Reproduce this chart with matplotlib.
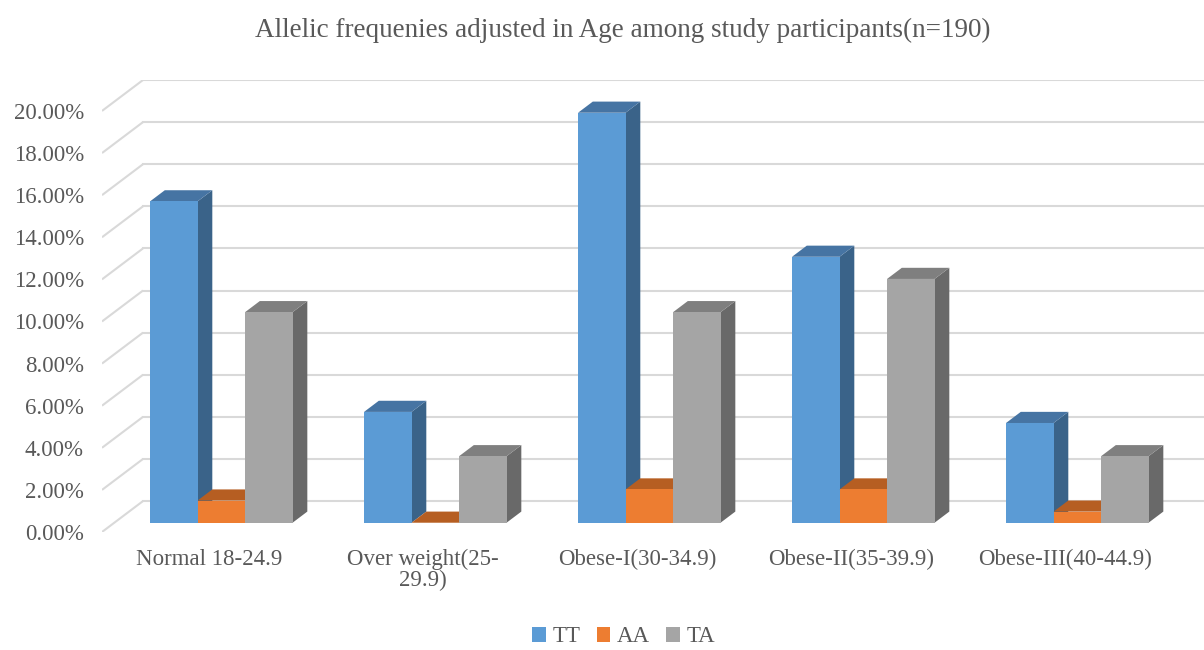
import matplotlib.pyplot as plt
from matplotlib.patches import Polygon
import numpy as np

plt.rcParams['font.family'] = ['Liberation Serif', 'DejaVu Serif']

categories = ["Normal 18-24.9", "Over weight(25-\n29.9)", "Obese-I(30-34.9)",
              "Obese-II(35-39.9)", "Obese-III(40-44.9)"]
n_total = 190
tt = np.array([29, 10, 37, 24, 9]) / n_total * 100
aa = np.array([2, 0, 3, 3, 1]) / n_total * 100
ta = np.array([19, 6, 19, 22, 6]) / n_total * 100
series = [("TT", tt, "#5B9BD5", "#4674A3", "#3A6389"),
          ("AA", aa, "#ED7D31", "#B65E22", "#A9561E"),
          ("TA", ta, "#A5A5A5", "#7F7F7F", "#696969")]

# oblique depth offset for the full floor (x in category units, y in %)
DX = 41 / 214
DY = 31 / 21.1
z_front, z_back = 0.3, 0.66
bar_w = 0.222

fig = plt.figure(figsize=(12.04, 6.5), dpi=100)
ax = fig.add_axes([102 / 1204, 1 - 532 / 650, (1204 - 102) / 1204, (532 - 80) / 650])
ax.set_xlim(-0.5, (1204 - 102) / 214 - 0.5)
ax.set_ylim(0, 20 + DY)

grid_c = "#D9D9D9"
x_wall = -0.5
for v in range(0, 21, 2):
    ax.plot([x_wall, x_wall + DX], [v, v + DY], color=grid_c, lw=1.5, zorder=1,
            solid_capstyle='butt')
    ax.plot([x_wall + DX, 10], [v + DY, v + DY], color=grid_c, lw=1.5, zorder=1)

idx = np.arange(len(categories))
zo = 2
for i in idx:
    for k, (name, vals, c_front, c_top, c_side) in enumerate(series):
        x0 = i + z_front * DX + (k - 1.5) * bar_w
        y0 = z_front * DY
        h = vals[i]
        ddx = (z_back - z_front) * DX
        ddy = (z_back - z_front) * DY
        x1 = x0 + bar_w
        side = Polygon([(x1, y0), (x1 + ddx, y0 + ddy), (x1 + ddx, y0 + h + ddy), (x1, y0 + h)],
                       closed=True, fc=c_side, ec='none', zorder=zo)
        top = Polygon([(x0, y0 + h), (x1, y0 + h), (x1 + ddx, y0 + h + ddy), (x0 + ddx, y0 + h + ddy)],
                      closed=True, fc=c_top, ec='none', zorder=zo + 1)
        ax.add_patch(side)
        ax.add_patch(top)
        ax.bar(x0, h, width=bar_w, bottom=y0, align='edge', color=c_front,
               lw=0, zorder=zo + 2, label=name if i == 0 else None)
        zo += 3

for s in ax.spines.values():
    s.set_visible(False)
ax.set_yticks(range(0, 21, 2))
ax.set_yticklabels([f"{v:.2f}%" for v in range(0, 21, 2)])
ax.set_xticks(idx)
ax.set_xticklabels(categories, linespacing=1.0)
ax.tick_params(length=0, labelsize=16.5, labelcolor="#595959")
ax.tick_params(axis='y', pad=13)
ax.tick_params(axis='x', pad=12)

fig.text(0.517, 1 - 30 / 650, "Allelic frequenies adjusted in Age among study participants(n=190)",
         ha='center', va='center', fontsize=19.5, color="#595959")

fig.legend(loc='center', bbox_to_anchor=(0.518, 1 - 637 / 650), ncol=3, frameon=False,
           fontsize=16.5, labelcolor="#595959", handlelength=0.6, handleheight=0.6,
           handletextpad=0.3, columnspacing=0.7)

fig.savefig("out.png", dpi=100)
